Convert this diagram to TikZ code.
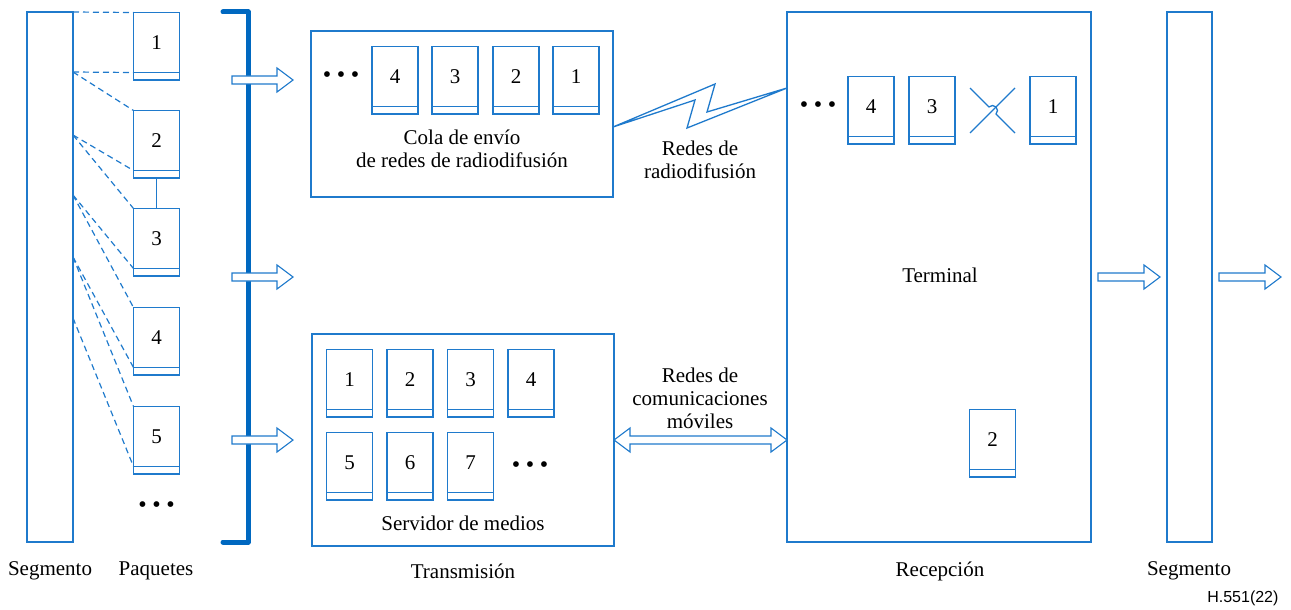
\documentclass[tikz,border=0pt]{standalone}
\usepackage{fontspec}
\setmainfont{Liberation Serif}
\newfontfamily\labelsans{Liberation Sans}
\usetikzlibrary{calc}
\definecolor{lineblue}{HTML}{1F7ACC}
\definecolor{barblue}{HTML}{0068C0}

% a packet: body node plus a thin footer strip underneath
\newcommand{\packetbox}[3]{%
  \node[pkt] (#1) at #2 {#3};
  \draw[thinline] (#1.south west) rectangle ([yshift=-7.5pt]#1.south east);
}

\begin{document}
\begin{tikzpicture}[x=1pt,y=-1pt,
  every node/.style={font=\fontsize{21}{23}\selectfont, text=black},
  thinline/.style={draw=lineblue, line width=1.3pt},
  box/.style={thinline, inner sep=0pt, outer sep=0pt},
  pkt/.style={box, minimum width=46pt, minimum height=60pt},
  dashline/.style={draw=lineblue, line width=1.2pt, dash pattern=on 6pt off 4pt},
  dotrow/.style={font=\fontsize{24}{24}\selectfont},
  barrow/.style={draw=lineblue, line width=1.1pt, fill=white, line join=miter, to path={
    ($(\tikztostart)+(0,-4)$) -- ($(\tikztotarget)+(-16,-4)$) -- ($(\tikztotarget)+(-16,-12)$)
    -- (\tikztotarget) -- ($(\tikztotarget)+(-16,12)$) -- ($(\tikztotarget)+(-16,4)$)
    -- ($(\tikztostart)+(0,4)$) -- cycle}},
  dbarrow/.style={draw=lineblue, line width=1.1pt, fill=white, line join=miter, to path={
    -- ($(\tikztostart)+(16,-12)$) -- ($(\tikztostart)+(16,-4)$) -- ($(\tikztotarget)+(-16,-4)$)
    -- ($(\tikztotarget)+(-16,-12)$) -- (\tikztotarget) -- ($(\tikztotarget)+(-16,12)$)
    -- ($(\tikztotarget)+(-16,4)$) -- ($(\tikztostart)+(16,4)$) -- ($(\tikztostart)+(16,12)$) -- cycle}}
]
\useasboundingbox (0,0) rectangle (1291,610);

% ---------- source segment and its packets ----------
\node[box, minimum width=46pt, minimum height=530pt] (lseg) at (50,277) {};

\packetbox{p1}{(156.5,42.5)}{1}
\packetbox{p2}{(156.5,140.5)}{2}
\packetbox{p3}{(156.5,238.5)}{3}
\packetbox{p4}{(156.5,337.5)}{4}
\packetbox{p5}{(156.5,436.5)}{5}
\node[dotrow] (pdots) at (156.5,507) {•\hspace{5.6pt}•\hspace{5.6pt}•};
\draw[thinline] ([yshift=-7.5pt]p2.south) -- (p3.north);

\coordinate (b0) at (lseg.north east);
\coordinate (b1) at ($(lseg.north east)+(0,60)$);
\coordinate (b2) at ($(lseg.north east)+(0,123)$);
\coordinate (b3) at ($(lseg.north east)+(0,183)$);
\coordinate (b4) at ($(lseg.north east)+(0,245)$);
\coordinate (b5) at ($(lseg.north east)+(0,306)$);
\draw[dashline] (b0) -- (p1.north west);
\draw[dashline] (b1) -- (p1.south west);
\draw[dashline] (b1) -- (p2.north west);
\draw[dashline] (b2) -- (p2.south west);
\draw[dashline] (b2) -- (p3.north west);
\draw[dashline] (b3) -- (p3.south west);
\draw[dashline] (b3) -- (p4.north west);
\draw[dashline] (b4) -- (p4.south west);
\draw[dashline] (b4) -- (p5.north west);
\draw[dashline] (b5) -- (p5.south west);

% ---------- transmission bracket ----------
\draw[barblue, line width=5pt, line cap=round, line join=round]
  (223,12) -- (248,12) -- (248,542) -- (223,542);

% ---------- broadcast send queue ----------
\node[box, minimum width=302pt, minimum height=166pt] (cola) at (462,114) {};
\node[dotrow] (cdots) at (341,77) {•\hspace{5.6pt}•\hspace{5.6pt}•};
\packetbox{c4}{(395,76.5)}{4}
\packetbox{c3}{(455,76.5)}{3}
\packetbox{c2}{(516,76.5)}{2}
\packetbox{c1}{(576,76.5)}{1}
\node[align=center] (colatxt) at (462,148.5) {Cola de envío\\de redes de radiodifusión};

% ---------- media server ----------
\node[box, minimum width=302pt, minimum height=212pt] (media) at (463,440) {};
\packetbox{m1}{(349.5,379.5)}{1}
\packetbox{m2}{(410,379.5)}{2}
\packetbox{m3}{(470.5,379.5)}{3}
\packetbox{m4}{(531,379.5)}{4}
\packetbox{m5}{(349.5,462.5)}{5}
\packetbox{m6}{(410,462.5)}{6}
\packetbox{m7}{(470.5,462.5)}{7}
\node[dotrow] (mdots) at (530,467) {•\hspace{5.6pt}•\hspace{5.6pt}•};
\node (mediatxt) at (463,523) {Servidor de medios};

% ---------- block arrows out of the bracket ----------
\coordinate (a1s) at (232,80);  \coordinate (a1e) at (293,80);
\coordinate (a2s) at (232,277); \coordinate (a2e) at (293,277);
\coordinate (a3s) at (232,440); \coordinate (a3e) at (293,440);
\draw[barrow] (a1s) to (a1e);
\draw[barrow] (a2s) to (a2e);
\draw[barrow] (a3s) to (a3e);

% ---------- terminal ----------
\node[box, minimum width=304pt, minimum height=530pt] (term) at (939,277) {};
\node[dotrow] (tdots) at (818,107) {•\hspace{5.6pt}•\hspace{5.6pt}•};
\packetbox{t4}{(871,106.5)}{4}
\packetbox{t3}{(932,106.5)}{3}
\packetbox{t1}{(1053,106.5)}{1}
\packetbox{t2}{(992.5,439.5)}{2}
\node (termtxt) at (940,275) {Terminal};

% lost packet: a cross with a small hop where the strokes meet
\coordinate (xc) at (992.5,110.5);
\draw[thinline] ($(xc)+(22.5,-22.5)$) -- ($(xc)+(-22.5,22.5)$);
\draw[thinline] ($(xc)+(-22.5,-22.5)$) -- ($(xc)+(-3.54,-3.54)$)
  arc[start angle=225, end angle=405, radius=5] -- ($(xc)+(22.5,22.5)$);

% ---------- broadcast link (lightning) ----------
\coordinate (lA) at ($(cola.north east)+(0,96)$);
\coordinate (lD) at ($(term.north west)+(0,76)$);
\draw[thinline, line join=miter] (lA) -- (715,84) -- (707,112) -- (lD)
  -- (687,128) -- (695,100) -- cycle;
\node[align=center] (bctxt) at (700,159.5) {Redes de\\radiodifusión};

% ---------- mobile link ----------
\coordinate (tw) at (term.west |- media.east);
\draw[dbarrow] (media.east) to (tw);
\node[align=center] (mobtxt) at (700,398) {Redes de\\comunicaciones\\móviles};

% ---------- output segment ----------
\node[box, minimum width=45pt, minimum height=530pt] (rseg) at (1189.5,277) {};
\coordinate (r1s) at ($(term.east)+(7,0)$);
\coordinate (r1e) at ($(rseg.west)+(-7,0)$);
\coordinate (r2s) at ($(rseg.east)+(7,0)$);
\coordinate (r2e) at (1281,277);
\draw[barrow] (r1s) to (r1e);
\draw[barrow] (r2s) to (r2e);

% ---------- captions ----------
\node (cap1) at (50,571) {Segmento};
\node (cap2) at (156,571) {Paquetes};
\node (cap3) at (463,571) {Transmisión};
\node (cap4) at (940,571) {Recepción};
\node (cap5) at (1189,571) {Segmento};
\node[font=\labelsans\fontsize{16}{16}\selectfont, anchor=east] (ref) at (1282,598) {H.551(22)};
\end{tikzpicture}
\end{document}
